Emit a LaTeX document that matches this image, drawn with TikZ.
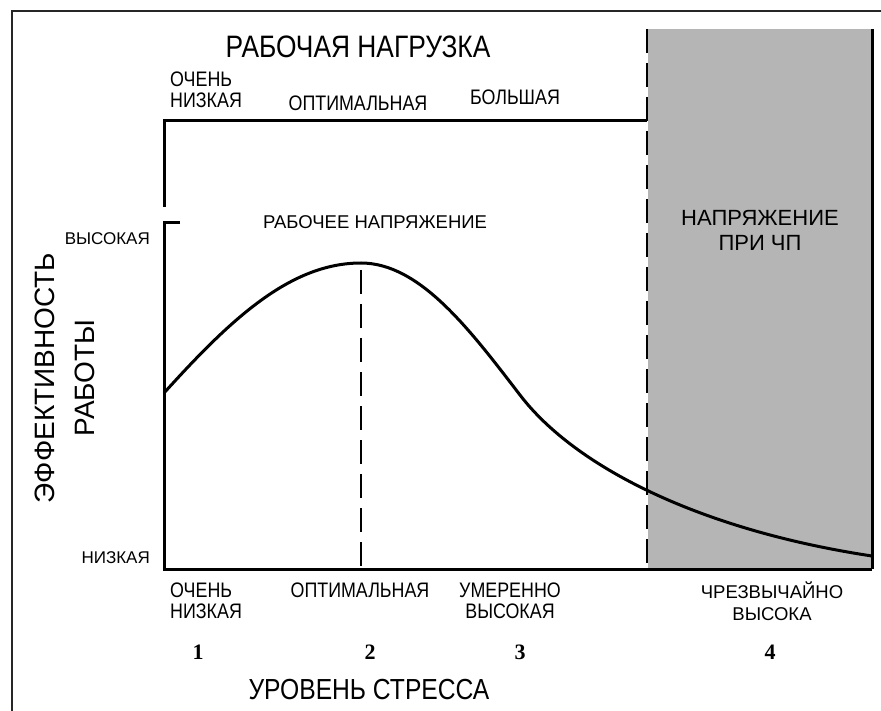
\documentclass[tikz,border=0pt]{standalone}
\usepackage{fontspec}
\setmainfont{Liberation Sans}
\newfontfamily\narrowfont[FakeStretch=0.85]{Liberation Sans}
\newfontfamily\numfont{Liberation Serif}
\definecolor{zonegray}{gray}{0.71}

\begin{document}
\begin{tikzpicture}[
  x=1pt,y=-1pt,
  axis/.style={line width=3pt,line join=miter},
  guide/.style={line width=2.6pt,dash pattern=on 24pt off 10pt},
  curve/.style={line width=3pt},
  narrow/.style={font=\narrowfont\fontsize{21}{21}\selectfont,align=center,inner sep=0pt},
  plain/.style={font=\fontsize{17}{21}\selectfont,align=center,inner sep=0pt},
  level/.style={font=\numfont\bfseries\fontsize{22}{22}\selectfont,inner sep=0pt}
]
  \useasboundingbox (0,0) rectangle (881,711);

  % outer frame, only left and top edges are visible
  \draw[line width=2pt,gray!30!black] (12,711) -- (12,11) -- (881,11);

  % emergency zone
  \fill[zonegray] (648,29) rectangle (872,569);
  \draw[axis] (872,29) -- (872,569);

  % axes
  \coordinate (origin) at (164,569);
  \coordinate (ytop) at (164,223);
  \coordinate (xend) at (872,569);
  \draw[axis] (180,223) -- (ytop) -- (origin) -- (xend);
  \draw[axis] (164,207) -- (164,121) -- (647,121);

  % performance curve
  \coordinate (start) at (164,393);
  \coordinate (peak) at (361,263);
  \coordinate (finish) at (872,556);
  \draw[curve] (start) .. controls (230,320) and (290,263) .. (peak)
    .. controls (420,263) and (470,330) .. (520,395)
    .. controls (575,467) and (700,530) .. (finish);

  % dashed guides
  \draw[guide] (647,29) -- (647,569);
  \draw[guide] (361,270) -- (origin -| peak);

  % workload labels
  \node[narrow,font=\narrowfont\fontsize{31}{31}\selectfont] (load) at (358,47) {РАБОЧАЯ НАГРУЗКА};
  \node[narrow,anchor=west,align=left] (loadlow) at (170,90) {ОЧЕНЬ\\НИЗКАЯ};
  \node[narrow] (loadopt) at (358,103) {ОПТИМАЛЬНАЯ};
  \node[narrow] (loadhigh) at (515,97) {БОЛЬШАЯ};

  % vertical axis labels
  \node[plain,anchor=east] (yhigh) at (150,239) {ВЫСОКАЯ};
  \node[plain,anchor=east] (ylow) at (150,558) {НИЗКАЯ};
  \node[plain,font=\fontsize{28}{40}\selectfont,rotate=90] (ylabel) at (65,378) {ЭФФЕКТИВНОСТЬ\\РАБОТЫ};

  % zone titles
  \node[plain,font=\fontsize{18.5}{22}\selectfont] (work) at (375,222) {РАБОЧЕЕ НАПРЯЖЕНИЕ};
  \node[plain,font=\fontsize{22}{25}\selectfont] (emerg) at (760,230) {НАПРЯЖЕНИЕ\\ПРИ ЧП};

  % stress level labels
  \node[narrow,anchor=west,align=left] (s1) at (170,601) {ОЧЕНЬ\\НИЗКАЯ};
  \node[narrow] (s2) at (360,590) {ОПТИМАЛЬНАЯ};
  \node[narrow] (s3) at (510,601) {УМЕРЕННО\\ВЫСОКАЯ};
  \node[plain,font=\fontsize{18.5}{22}\selectfont] (s4) at (772,601) {ЧРЕЗВЫЧАЙНО\\ВЫСОКА};
  \node[level] (n1) at (198,652) {1};
  \node[level] (n2) at (370,652) {2};
  \node[level] (n3) at (520,652) {3};
  \node[level] (n4) at (770,652) {4};
  \node[narrow,font=\narrowfont\fontsize{29}{29}\selectfont] (stress) at (369,690) {УРОВЕНЬ СТРЕССА};
\end{tikzpicture}
\end{document}
